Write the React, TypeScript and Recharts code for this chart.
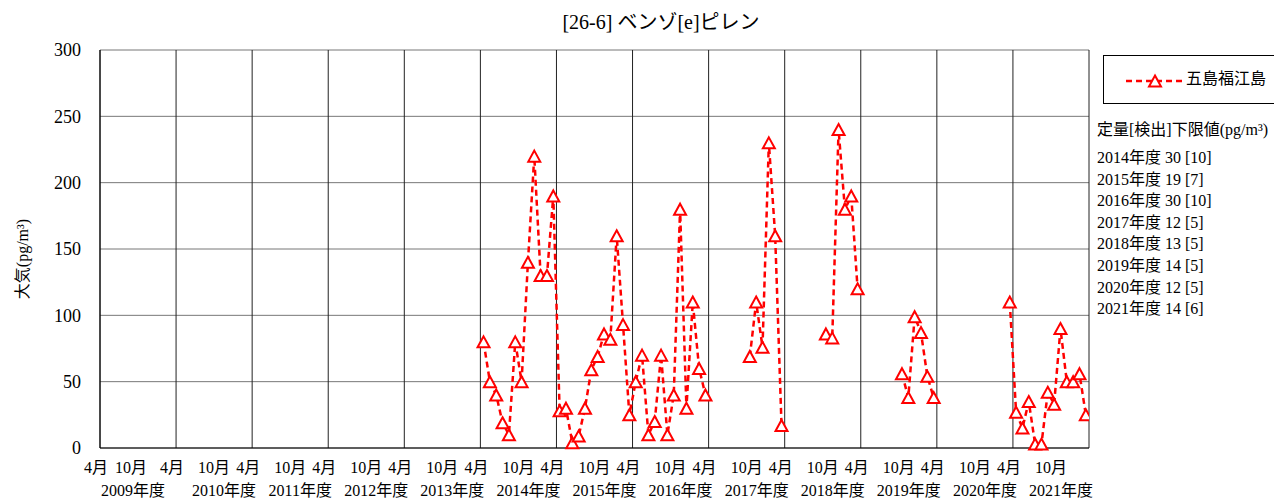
import React from 'react';
import { LineChart, Line, XAxis, YAxis, CartesianGrid, ReferenceLine, Legend } from 'recharts';

const FONT = "'Liberation Serif', 'Noto Sans CJK JP', serif";

const chartTitle = '[26-6] ベンゾ[e]ピレン';
const yAxisTitle = '大気(pg/m³)';
const seriesName = '五島福江島';
const notesTitle = '定量[検出]下限値(pg/m³)';

const fiscalYears = [2009, 2010, 2011, 2012, 2013, 2014, 2015, 2016, 2017, 2018, 2019, 2020, 2021];
const monthLabels = ['4月', '10月'];
const yTicks = [0, 50, 100, 150, 200, 250, 300];

// monthly values, April .. March of each fiscal year
const fy2014 = [80, 50, 40, 19, 10, 80, 50, 140, 220, 130, 130, 190];
const fy2015 = [28, 30, 4, 9, 30, 59, 69, 86, 82, 160, 93, 25];
const fy2016 = [50, 70, 10, 20, 70, 10, 40, 180, 30, 110, 60, 40];
const fy2017 = [null, null, null, null, null, null, 69, 110, 76, 230, 160, 17];
const fy2018 = [null, null, null, null, null, null, 86, 83, 240, 180, 190, 120];
const fy2019 = [null, null, null, null, null, null, 56, 38, 99, 87, 54, 38];
const fy2020 = [null, null, null, null, null, null, null, null, null, null, null, 110];
const fy2021 = [27, 15, 35, 3, 3, 42, 33, 90, 50, 50, 56, 25];

const noteYears = [2014, 2015, 2016, 2017, 2018, 2019, 2020, 2021];
const noteQuant = [30, 19, 30, 12, 13, 14, 12, 14];
const noteDetect = [10, 7, 10, 5, 5, 5, 5, 6];

const seriesByYear: Record<number, (number | null)[]> = {
  2014: fy2014, 2015: fy2015, 2016: fy2016, 2017: fy2017,
  2018: fy2018, 2019: fy2019, 2020: fy2020, 2021: fy2021,
};

const data: { m: number; v: number | null }[] = [];
fiscalYears.forEach((fy, i) => {
  const vals = seriesByYear[fy] || [];
  for (let j = 0; j < 12; j++) {
    const val = vals[j];
    data.push({ m: i * 12 + j + 0.5, v: val === undefined ? null : val });
  }
});

const xTicks: number[] = [];
fiscalYears.forEach((_, i) => { xTicks.push(i * 12); xTicks.push(i * 12 + 6); });
const aprilLines = [...fiscalYears.map((_, i) => i * 12), fiscalYears.length * 12];

const Tri = (props: any) => {
  const { cx, cy, value, index } = props;
  if (value === null || value === undefined || cy == null || isNaN(cy)) return <g key={`d${index}`} />;
  const h = 5.5;
  return (
    <path
      key={`d${index}`}
      d={`M${cx},${cy - h} L${cx + 6},${cy + h} L${cx - 6},${cy + h} Z`}
      fill="#fff"
      stroke="#ff0000"
      strokeWidth={2}
    />
  );
};

const XTick = (props: any) => {
  const { x, y, payload } = props;
  const v = payload.value as number;
  const isApr = v % 12 === 0;
  const idx = Math.floor(v / 12);
  const first = idx === 0;
  return (
    <g>
      <text x={x + (isApr ? -4 : first ? -7 : 0)} y={y + 25} textAnchor="middle" fontSize={16} fontFamily={FONT} fill="#000">
        {isApr ? monthLabels[0] : monthLabels[1]}
      </text>
      {!isApr && (
        <text x={x + (first ? -5 : 10)} y={y + 48} textAnchor="middle" fontSize={16} fontFamily={FONT} fill="#000">
          {`${fiscalYears[idx]}年度`}
        </text>
      )}
    </g>
  );
};

const LegendContent = (props: any) => {
  const p = (props.payload && props.payload[0]) || { value: seriesName, color: '#ff0000' };
  return (
    <div style={{ width: 200, height: 47, border: '1px solid #000', background: '#fff', position: 'relative', fontFamily: FONT }}>
      <svg width={70} height={47} style={{ position: 'absolute', left: 18, top: 0 }}>
        <line x1={4} y1={25} x2={62} y2={25} stroke={p.color} strokeWidth={2.5} strokeDasharray="6 4" />
        <path d="M33,19.5 L39,30.5 L27,30.5 Z" fill="#fff" stroke={p.color} strokeWidth={2} />
      </svg>
      <div style={{ position: 'absolute', left: 82, top: 13, fontSize: 16, lineHeight: '20px', whiteSpace: 'nowrap' }}>{p.value}</div>
    </div>
  );
};

export default function App() {
  return (
    <div style={{ position: 'absolute', left: 0, top: 0, width: 1274, height: 499, background: '#fff', fontFamily: FONT, overflow: 'hidden' }}>
      <div style={{ position: 'absolute', left: 661, top: 9, transform: 'translateX(-50%)', fontSize: 20, lineHeight: '26px', whiteSpace: 'nowrap' }}>
        {chartTitle}
      </div>
      <div style={{ position: 'absolute', left: 1097, top: 119, fontSize: 16, lineHeight: '22px', whiteSpace: 'nowrap' }}>
        {notesTitle}
      </div>
      <div style={{ position: 'absolute', left: 1097, top: 147, fontSize: 16, lineHeight: '21.6px', whiteSpace: 'nowrap' }}>
        {noteYears.map((y, i) => (
          <div key={y}>{`${y}年度 ${noteQuant[i]} [${noteDetect[i]}]`}</div>
        ))}
      </div>
      <LineChart width={1274} height={499} data={data} margin={{ top: 50, right: 185, bottom: 0, left: 0 }}>
        <CartesianGrid vertical={false} stroke="#777" strokeWidth={1} />
        {aprilLines.map((x) => (
          <ReferenceLine key={x} x={x} stroke="#222" strokeWidth={1} />
        ))}
        <XAxis
          dataKey="m"
          type="number"
          domain={[0, 156]}
          ticks={xTicks}
          interval={0}
          height={51}
          tickSize={0}
          tickMargin={0}
          tick={<XTick />}
          axisLine={{ stroke: '#000' }}
          allowDataOverflow
        />
        <YAxis
          type="number"
          domain={[0, 300]}
          ticks={yTicks}
          width={100}
          tickSize={0}
          tickMargin={19}
          axisLine={{ stroke: '#000' }}
          tick={{ fontSize: 18, fill: '#000', fontFamily: FONT }}
          label={(p: any) => (
            <text x={22} y={259} transform="rotate(-90 22 259)" textAnchor="middle" dominantBaseline="central" fontSize={16} fontFamily={FONT} fill="#000">
              {yAxisTitle}
            </text>
          )}
        />
        <Legend
          layout="horizontal"
          verticalAlign="middle"
          align="center"
          content={<LegendContent />}
          wrapperStyle={{ left: 1103, top: 55, width: 200, height: 49 }}
        />
        <Line
          type="linear"
          dataKey="v"
          name={seriesName}
          stroke="#ff0000"
          strokeWidth={2.5}
          strokeDasharray="6 4"
          dot={Tri}
          activeDot={false}
          connectNulls={false}
          isAnimationActive={false}
        />
      </LineChart>
    </div>
  );
}
